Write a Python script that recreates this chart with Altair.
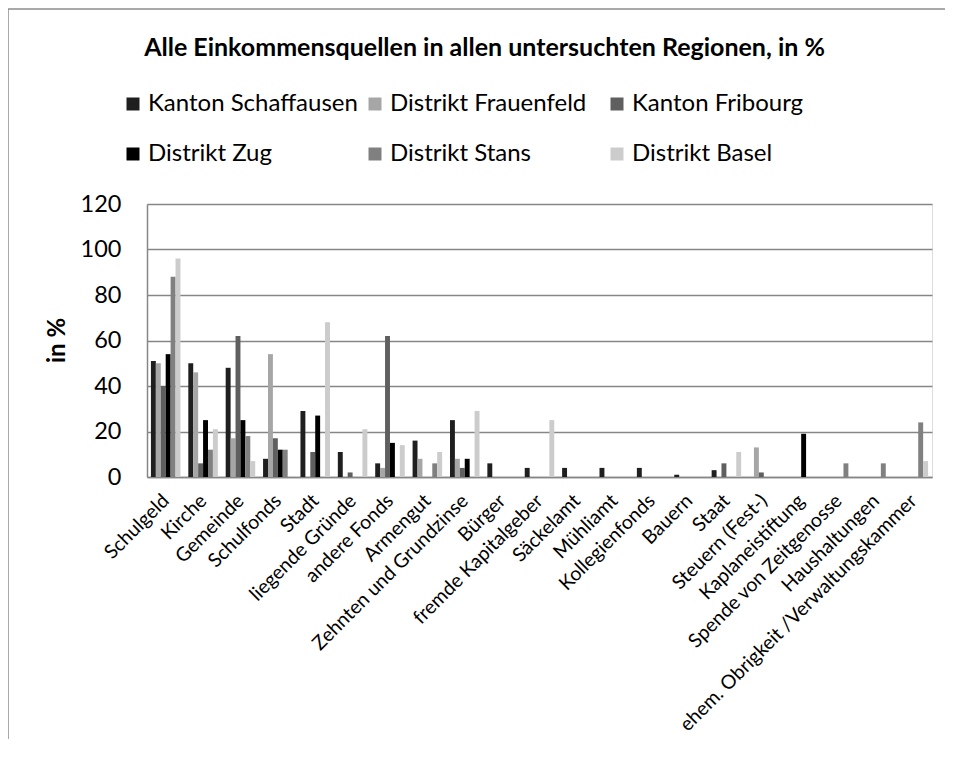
import altair as alt
import pandas as pd

categories = ["Schulgeld", "Kirche", "Gemeinde", "Schulfonds", "Stadt", "liegende Gründe",
              "andere Fonds", "Armengut", "Zehnten und Grundzinse", "Bürger",
              "fremde Kapitalgeber", "Säckelamt", "Mühliamt", "Kollegienfonds", "Bauern",
              "Staat", "Steuern (Fest-)", "Kaplaneistiftung", "Spende von Zeitgenosse",
              "Haushaltungen", "ehem. Obrigkeit /Verwaltungskammer"]

series = ["Kanton Schaffausen", "Distrikt Frauenfeld", "Kanton Fribourg",
          "Distrikt Zug", "Distrikt Stans", "Distrikt Basel"]

kanton_schaffausen  = [51, 50, 48, 8, 29, 11, 6, 16, 25, 6, 4, 4, 4, 4, 1, 3, 0, 0, 0, 0, 0]
distrikt_frauenfeld = [50, 46, 17, 54, 0, 0, 4, 8, 8, 0, 0, 0, 0, 0, 0, 0, 13, 0, 0, 0, 0]
kanton_fribourg     = [40, 6, 62, 17, 11, 2, 62, 0, 4, 0, 0, 0, 0, 0, 0, 6, 2, 0, 0, 0, 0]
distrikt_zug        = [54, 25, 25, 12, 27, 0, 15, 0, 8, 0, 0, 0, 0, 0, 0, 0, 0, 19, 0, 0, 0]
distrikt_stans      = [88, 12, 18, 12, 0, 0, 0, 6, 0, 0, 0, 0, 0, 0, 0, 0, 0, 0, 6, 6, 24]
distrikt_basel      = [96, 21, 7, 0, 68, 21, 14, 11, 29, 0, 25, 0, 0, 0, 0, 11, 0, 0, 0, 0, 7]

colors = ["#1f1f1f", "#a6a6a6", "#5f5f5f", "#000000", "#808080", "#cccccc"]
y_ticks = [0, 20, 40, 60, 80, 100, 120]

all_values = [kanton_schaffausen, distrikt_frauenfeld, kanton_fribourg,
              distrikt_zug, distrikt_stans, distrikt_basel]
rows = []
for s, vals in zip(series, all_values):
    for c, v in zip(categories, vals):
        rows.append({"Kategorie": c, "Region": s, "Wert": v})
df = pd.DataFrame(rows)

FONT = "Lato"
GRID = "#868686"

bars = alt.Chart(df).mark_bar().encode(
    x=alt.X("Kategorie:N", sort=categories,
            scale=alt.Scale(paddingInner=0.21, paddingOuter=0.105),
            axis=alt.Axis(title=None, labelAngle=-45, labelAlign="right",
                          labelBaseline="top", labelPadding=14, labelOffset=-6,
                          ticks=False, labelFont=FONT, labelFontSize=19.5,
                          labelColor="black", domainColor=GRID, domainWidth=1.5,
                          labelLimit=500, labelOverlap=False, grid=False)),
    xOffset=alt.XOffset("Region:N", sort=series,
                        scale=alt.Scale(paddingInner=0, paddingOuter=0)),
    y=alt.Y("Wert:Q", scale=alt.Scale(domain=[0, 120], nice=False),
            axis=alt.Axis(values=y_ticks, title="in %", titleFont=FONT,
                          titleFontSize=24, titleFontWeight="bold", titleColor="black",
                          titleAngle=-90, titleX=-90, titleY=136, titleAlign="center",
                          titleBaseline="middle",
                          labelFont=FONT, labelFontSize=23.5, labelColor="black",
                          labelPadding=26, ticks=False, domainColor=GRID,
                          domainWidth=1.5, gridColor=GRID, gridWidth=1.5)),
    color=alt.Color("Region:N", sort=series,
                    scale=alt.Scale(domain=series, range=colors),
                    legend=alt.Legend(title=None, orient="none", legendX=-26, legendY=-112,
                                      direction="horizontal", columns=3,
                                      symbolType="square", symbolSize=169,
                                      symbolStrokeWidth=0, labelFont=FONT,
                                      labelFontSize=24, labelColor="black",
                                      columnPadding=5, rowPadding=26,
                                      gridAlign="all", labelOffset=3, labelLimit=500)),
)

frame_left = alt.Chart(alt.Data(values=[{}])).mark_rule(color="#8c8c8c", strokeWidth=1.5).encode(
    x=alt.value(-139), y=alt.value(-195), y2=alt.value(560))
frame_top = alt.Chart(alt.Data(values=[{}])).mark_rule(color="#8c8c8c", strokeWidth=1.5).encode(
    x=alt.value(-139), x2=alt.value(820), y=alt.value(-195))

chart = alt.layer(frame_left, frame_top, bars).properties(
    width=785, height=273,
    title=alt.TitleParams("Alle Einkommensquellen in allen untersuchten Regionen, in %",
                          font=FONT, fontSize=25, fontWeight="bold", color="black",
                          anchor="middle", frame="group", dx=-55, dy=57),
    autosize=alt.AutoSizeParams(type="none"),
    padding={"left": 139, "top": 196, "right": 13, "bottom": 262},
).configure_view(stroke=None).configure(background="white")

chart.save("out.html", embed_options={"renderer": "svg", "actions": False})
